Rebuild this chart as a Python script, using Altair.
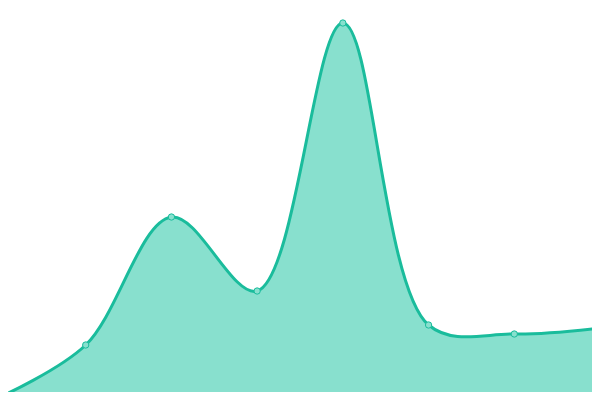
import altair as alt
import pandas as pd

idx = [0, 1, 2, 3, 4, 5, 6, 7]
values = [3, 55, 183, 109, 377, 75, 66, 72]

df = pd.DataFrame({"i": idx, "v": values})

x = alt.X("i:Q", scale=alt.Scale(domain=[0, 7], nice=False, zero=False), axis=None)
y = alt.Y("v:Q", scale=alt.Scale(domain=[0, 400], nice=False), axis=None)

area = alt.Chart(df).mark_area(
    interpolate="catmull-rom", color="#88e0ce", opacity=1,
    line={"color": "#1abc9c", "strokeWidth": 3},
).encode(x=x, y=y)

pts = alt.Chart(df).mark_point(
    filled=True, fill="#88e0ce", stroke="#1abc9c", strokeWidth=1, size=40, opacity=1,
).encode(x=x, y=y)

chart = (area + pts).properties(
    width=600, height=400,
    autosize=alt.AutoSizeParams(type="none"),
    padding={"left": -8, "top": -8, "right": -8, "bottom": -8},
).configure_view(stroke=None)

chart.save("out.html", embed_options={"renderer": "svg", "actions": False})
